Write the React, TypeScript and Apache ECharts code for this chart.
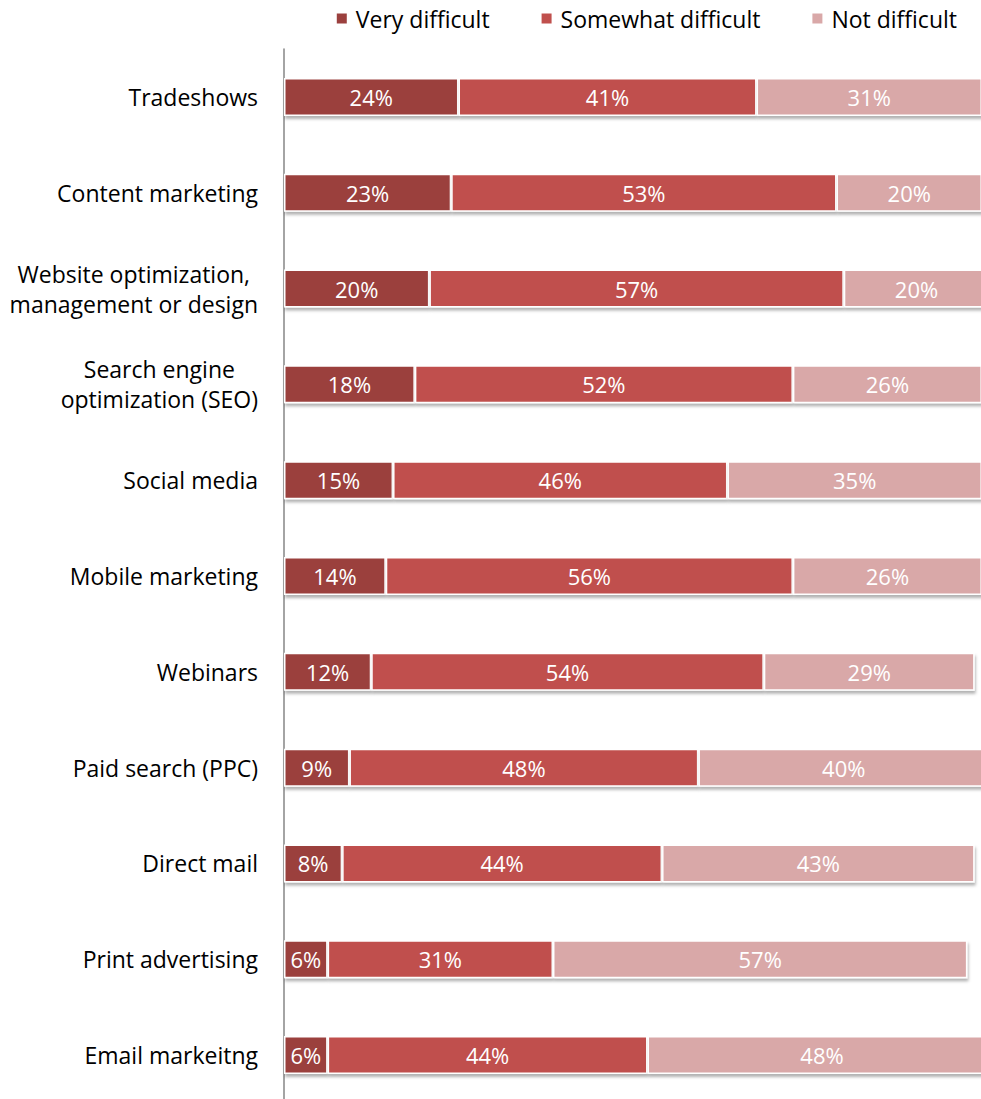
import React, { useEffect, useRef } from "react";
import * as echarts from "echarts";

const categories = [
  "Tradeshows",
  "Content marketing",
  "Website optimization,\nmanagement or design",
  "Search engine\noptimization (SEO)",
  "Social media",
  "Mobile marketing",
  "Webinars",
  "Paid search (PPC)",
  "Direct mail",
  "Print advertising",
  "Email markeitng",
];
const veryDifficult = [24, 23, 20, 18, 15, 14, 12, 9, 8, 6, 6];
const somewhatDifficult = [41, 53, 57, 52, 46, 56, 54, 48, 44, 31, 44];
const notDifficult = [31, 20, 20, 26, 35, 26, 29, 40, 43, 57, 48];
const seriesNames = ["Very difficult", "Somewhat difficult", "Not difficult"];
const colors = ["#9B403E", "#C0504D", "#D9A8A8"];

const FONT = "'Open Sans', sans-serif";

export default function App() {
  const ref = useRef<HTMLDivElement>(null);
  useEffect(() => {
    document.body.style.margin = "0";
    const chart = echarts.init(ref.current!, null, { renderer: "svg" });
    const values = [veryDifficult, somewhatDifficult, notDifficult];
    chart.setOption({
      animation: false,
      legend: {
        right: 19,
        top: 2,
        itemWidth: 12,
        itemHeight: 12,
        itemGap: 50,
        icon: "rect",
        textStyle: {
          fontFamily: FONT,
          fontSize: 23,
          color: "#000",
          padding: [0, 0, 0, 3],
        },
        data: seriesNames,
      },
      grid: {
        left: 284,
        top: 49,
        width: 727,
        height: 1054,
        containLabel: false,
        outerBoundsMode: "none",
      },
      xAxis: {
        type: "value",
        min: 0,
        max: 100,
        show: false,
      },
      yAxis: {
        type: "category",
        inverse: true,
        data: categories,
        axisLine: { show: true, lineStyle: { color: "#868686", width: 1.5 } },
        axisTick: { show: false },
        axisLabel: {
          margin: 26,
          align: "right",
          formatter: (v: string) =>
            v
              .split("\n")
              .map((l) => `{c|${l}}`)
              .join("\n"),
          rich: {
            c: {
              align: "center",
              fontFamily: FONT,
              fontSize: 23,
              lineHeight: 30,
              color: "#000",
            },
          },
        },
      },
      series: values.map((arr, i) => ({
        name: seriesNames[i],
        type: "bar",
        stack: "total",
        barWidth: 38,
        data: arr,
        itemStyle: {
          color: colors[i],
          borderColor: "#fff",
          borderWidth: 1.5,
          shadowColor: "rgba(0,0,0,0.3)",
          shadowBlur: 3,
          shadowOffsetY: 3,
          shadowOffsetX: 1,
        },
        label: {
          show: true,
          position: "inside",
          formatter: "{c}%",
          color: "#fff",
          fontFamily: FONT,
          fontSize: 22,
        },
      })),
    });
    return () => chart.dispose();
  }, []);
  return <div ref={ref} style={{ width: 981, height: 1099 }} />;
}
